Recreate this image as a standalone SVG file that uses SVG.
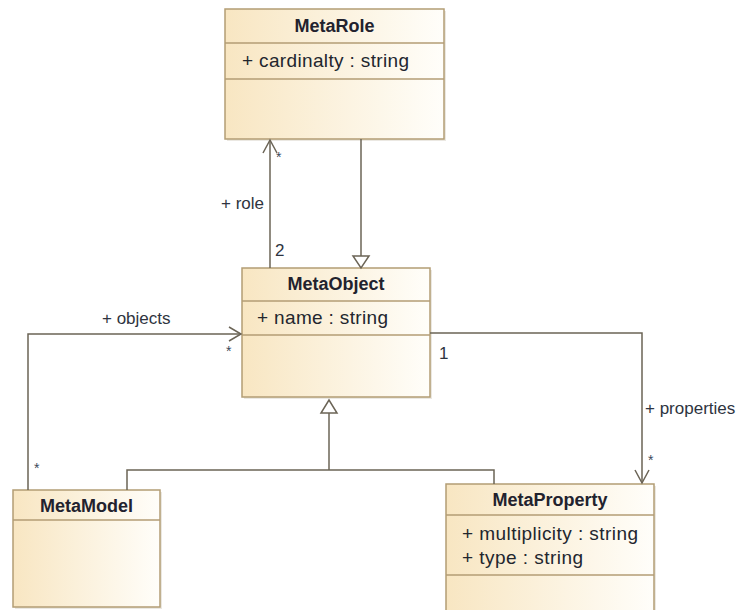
<svg xmlns="http://www.w3.org/2000/svg" width="742" height="610" viewBox="0 0 742 610">
  <style>
    .box { fill: url(#classFill); stroke: #b39d74; stroke-width: 1.5; }
    .shadow { fill: #ebe8e2; }
    .sep { stroke: #b39d74; stroke-width: 1.5; }
    .title { font-family: "Liberation Sans", Arial, sans-serif; font-size: 18px; font-weight: bold; fill: #22222e; text-anchor: middle; }
    .attr { font-family: "Liberation Sans", Arial, sans-serif; font-size: 19px; fill: #22262e; }
    .lbl { font-family: "Liberation Sans", Arial, sans-serif; font-size: 17px; fill: #2e3440; }
    .mult { font-family: "Liberation Sans", Arial, sans-serif; font-size: 14px; fill: #3a4a5a; }
    .edge { fill: none; stroke: #6b6456; stroke-width: 1.5; }
    .gen { fill: #ffffff; stroke: #6b6456; stroke-width: 1.5; }
  </style>
  <defs>
    <linearGradient id="classFill" x1="0" y1="0" x2="1" y2="0">
      <stop offset="0" stop-color="#f8e6c2"/>
      <stop offset="1" stop-color="#fffefa"/>
    </linearGradient>
  </defs>

  <rect width="742" height="610" fill="#ffffff"/>

  <!-- MetaRole -->
  <g id="MetaRole">
    <rect class="shadow" x="227" y="11" width="219" height="130"/>
    <rect class="box" x="225" y="9" width="219" height="130"/>
    <line class="sep" x1="225" y1="43" x2="444" y2="43"/>
    <line class="sep" x1="225" y1="79" x2="444" y2="79"/>
    <text class="title" x="334.5" y="32">MetaRole</text>
    <text class="attr" x="242" y="67" textLength="167" lengthAdjust="spacing">+ cardinalty : string</text>
  </g>

  <!-- MetaObject -->
  <g id="MetaObject">
    <rect class="shadow" x="244" y="270" width="188" height="129"/>
    <rect class="box" x="242" y="268" width="188" height="129"/>
    <line class="sep" x1="242" y1="301" x2="430" y2="301"/>
    <line class="sep" x1="242" y1="335" x2="430" y2="335"/>
    <text class="title" x="336" y="290">MetaObject</text>
    <text class="attr" x="257" y="324" textLength="131" lengthAdjust="spacing">+ name : string</text>
  </g>

  <!-- MetaModel -->
  <g id="MetaModel">
    <rect class="shadow" x="15" y="492" width="147" height="117"/>
    <rect class="box" x="13" y="490" width="147" height="117"/>
    <line class="sep" x1="13" y1="520" x2="160" y2="520"/>
    <text class="title" x="86.5" y="512">MetaModel</text>
  </g>

  <!-- MetaProperty -->
  <g id="MetaProperty">
    <rect class="shadow" x="448" y="486" width="208" height="130"/>
    <rect class="box" x="446" y="484" width="208" height="130"/>
    <line class="sep" x1="446" y1="515" x2="654" y2="515"/>
    <line class="sep" x1="446" y1="575" x2="654" y2="575"/>
    <text class="title" x="550" y="506">MetaProperty</text>
    <text class="attr" x="462" y="540" textLength="176" lengthAdjust="spacing">+ multiplicity : string</text>
    <text class="attr" x="462" y="564" textLength="121" lengthAdjust="spacing">+ type : string</text>
  </g>

  <!-- connectors -->
  <g id="connectors">
    <!-- role association: MetaObject -> MetaRole -->
    <line class="edge" x1="270" y1="268" x2="270" y2="140"/>
    <polyline class="edge" points="263,153 270,140 277,153"/>
    <text class="mult" x="276" y="162">*</text>
    <text class="lbl" x="221" y="209">+ role</text>
    <text class="lbl" x="275" y="256">2</text>

    <!-- MetaObject generalizes MetaRole -->
    <line class="edge" x1="361" y1="139" x2="361" y2="256"/>
    <polygon class="gen" points="353,256 369,256 361,268"/>

    <!-- objects association: MetaModel -> MetaObject -->
    <polyline class="edge" points="28,490 28,334 241,334"/>
    <polyline class="edge" points="229,327 241,334 229,341"/>
    <text class="lbl" x="102" y="324">+ objects</text>
    <text class="mult" x="226" y="356">*</text>
    <text class="mult" x="34" y="473">*</text>

    <!-- properties association: MetaObject -> MetaProperty -->
    <polyline class="edge" points="430,333 642,333 642,483"/>
    <polyline class="edge" points="635,470 642,483 649,470"/>
    <text class="lbl" x="439" y="359">1</text>
    <text class="lbl" x="645" y="414">+ properties</text>
    <text class="mult" x="648" y="465">*</text>

    <!-- MetaModel and MetaProperty generalize MetaObject -->
    <polyline class="edge" points="127,490 127,470 494,470 494,484"/>
    <line class="edge" x1="329" y1="470" x2="329" y2="413"/>
    <polygon class="gen" points="321,413 337,413 329,400"/>
  </g>
</svg>
